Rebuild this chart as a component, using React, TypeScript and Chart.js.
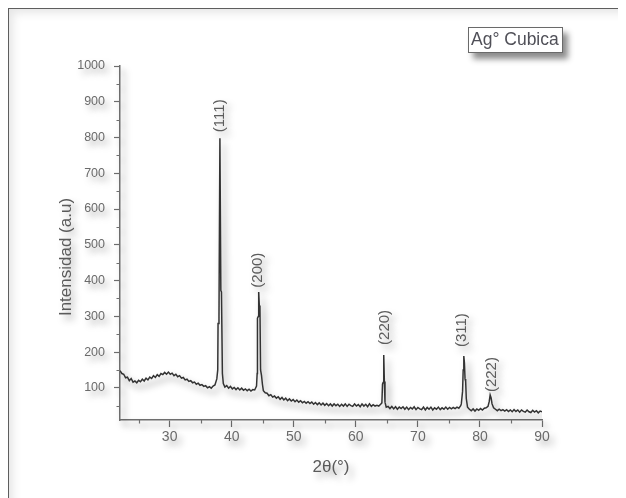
import React, { useEffect, useRef } from "react";
import { Chart, registerables } from "chart.js";

Chart.register(...registerables);

// ---- data (2θ in degrees, intensity in a.u.) ----
const twoTheta: number[] = [
  22.0, 22.3, 22.6, 22.9, 23.2, 23.5, 23.8, 24.1, 24.4, 24.7, 25.0, 25.3, 25.6, 25.9, 26.2, 26.5, 26.8, 27.1, 27.4, 27.7,
  28.0, 28.3, 28.6, 28.9, 29.2, 29.5, 29.8, 30.1, 30.4, 30.7, 31.0, 31.3, 31.6, 31.9, 32.2, 32.5, 32.8, 33.1, 33.4, 33.7,
  34.0, 34.3, 34.6, 34.9, 35.2, 35.5, 35.8, 36.1, 36.4, 36.7, 37.0, 37.3, 37.6, 37.75, 37.8, 37.95, 38.1, 38.25, 38.35, 38.5,
  38.65, 38.9, 39.2, 39.5, 39.8, 40.1, 40.4, 40.7, 41.0, 41.3, 41.6, 41.9, 42.2, 42.5, 42.8, 43.1, 43.4, 43.7, 44.0, 44.1,
  44.15, 44.3, 44.35, 44.45, 44.55, 44.65, 44.8, 44.95, 45.1, 45.4, 45.7, 46.0, 46.3, 46.6, 46.9, 47.2, 47.5, 47.8, 48.1, 48.4,
  48.7, 49.0, 49.3, 49.6, 49.9, 50.2, 50.5, 50.8, 51.1, 51.4, 51.7, 52.0, 52.3, 52.6, 52.9, 53.2, 53.5, 53.8, 54.1, 54.4,
  54.7, 55.0, 55.3, 55.6, 55.9, 56.2, 56.5, 56.8, 57.1, 57.4, 57.7, 58.0, 58.3, 58.6, 58.9, 59.2, 59.5, 59.8, 60.1, 60.4,
  60.7, 61.0, 61.3, 61.6, 61.9, 62.2, 62.5, 62.8, 63.1, 63.4, 63.7, 64.0, 64.2, 64.3, 64.4, 64.5, 64.6, 64.7, 64.9, 65.2,
  65.5, 65.8, 66.1, 66.4, 66.7, 67.0, 67.3, 67.6, 67.9, 68.2, 68.5, 68.8, 69.1, 69.4, 69.7, 70.0, 70.3, 70.6, 70.9, 71.2,
  71.5, 71.8, 72.1, 72.4, 72.7, 73.0, 73.3, 73.6, 73.9, 74.2, 74.5, 74.8, 75.1, 75.4, 75.7, 76.0, 76.3, 76.6, 76.9, 77.0,
  77.2, 77.3, 77.4, 77.5, 77.6, 77.7, 77.8, 78.0, 78.3, 78.6, 78.9, 79.2, 79.5, 79.8, 80.1, 80.4, 80.7, 81.0, 81.3, 81.5,
  81.65, 81.8, 81.95, 82.2, 82.5, 82.8, 83.1, 83.4, 83.7, 84.0, 84.3, 84.6, 84.9, 85.2, 85.5, 85.8, 86.1, 86.4, 86.7, 87.0,
  87.3, 87.6, 87.9, 88.2, 88.5, 88.8, 89.1, 89.4, 89.7, 90.0,
];

const intensity: number[] = [
  148, 140, 138, 128, 130, 120, 126, 116, 119, 114, 121, 117, 124, 119, 127, 122, 130, 126, 134, 129,
  137, 132, 140, 137, 143, 138, 144, 138, 141, 134, 138, 131, 134, 127, 129, 122, 124, 118, 120, 114,
  116, 110, 113, 107, 109, 104, 106, 100, 103, 99, 105, 108, 125, 150, 280, 300, 798, 372, 368, 140,
  112, 102, 106, 99, 104, 97, 101, 95, 100, 94, 99, 93, 97, 92, 96, 91, 95, 94, 105, 140,
  295, 300, 368, 330, 325, 150, 135, 110, 92, 86, 85, 78, 81, 74, 77, 71, 75, 68, 73, 66,
  71, 64, 69, 63, 67, 61, 66, 60, 64, 58, 62, 57, 61, 56, 60, 54, 59, 53, 58, 52,
  57, 51, 56, 50, 55, 49, 55, 50, 54, 48, 54, 49, 55, 48, 54, 50, 48, 55, 49, 53,
  47, 55, 49, 54, 47, 55, 48, 53, 49, 51, 49, 54, 58, 110, 115, 192, 118, 60, 46, 48,
  42, 48, 41, 47, 40, 46, 42, 47, 40, 46, 39, 45, 41, 47, 39, 45, 41, 39, 46, 38,
  45, 40, 46, 38, 44, 40, 46, 39, 44, 40, 46, 40, 45, 41, 45, 42, 46, 43, 50, 55,
  90, 150, 189, 170, 125, 118, 70, 46, 40, 36, 41, 35, 41, 37, 42, 38, 43, 44, 48, 62,
  80, 72, 55, 44, 40, 36, 40, 36, 39, 35, 39, 34, 38, 33, 39, 34, 38, 32, 38, 34,
  32, 38, 33, 31, 37, 32, 36, 30, 35, 33,
];

const xTickValues: number[] = [30, 40, 50, 60, 70, 80, 90];
const xMinorValues: number[] = [25, 35, 45, 55, 65, 75, 85];
const yTickValues: number[] = [100, 200, 300, 400, 500, 600, 700, 800, 900, 1000];
const yMinorValues: number[] = [50, 150, 250, 350, 450, 550, 650, 750, 850, 950];

const peakLabels: string[] = ["(111)", "(200)", "(220)", "(311)", "(222)"];
const peakLabelX: number[] = [38.13, 44.26, 64.74, 77.16, 82.0];
const peakLabelY: number[] = [815, 380, 220, 214, 88];

const xTitle = "2θ(°)";
const yTitle = "Intensidad (a.u)";
const legendText = "Ag° Cubica";

const FONT = '"Liberation Sans", Arial, Helvetica, sans-serif';

const shadowPlugin = {
  id: "softShadow",
  beforeDraw(chart: any) {
    const ctx = chart.ctx;
    ctx.save();
    ctx.shadowColor = "rgba(0,0,0,0.38)";
    ctx.shadowBlur = 7;
    ctx.shadowOffsetX = 4;
    ctx.shadowOffsetY = 5;
  },
  afterDraw(chart: any) {
    chart.ctx.restore();
  },
};

const annotationPlugin = {
  id: "xrdAnnotations",
  afterDatasetsDraw(chart: any) {
    const { ctx, scales, chartArea } = chart;
    const x = scales.x;
    const y = scales.y;
    ctx.save();
    // minor ticks
    ctx.strokeStyle = "#6e6e6e";
    ctx.lineWidth = 1.2;
    ctx.beginPath();
    yMinorValues.forEach((v) => {
      const py = Math.round(y.getPixelForValue(v)) + 0.5;
      ctx.moveTo(chartArea.left - 3.5, py);
      ctx.lineTo(chartArea.left, py);
    });
    xMinorValues.forEach((v) => {
      const px = Math.round(x.getPixelForValue(v)) + 0.5;
      ctx.moveTo(px, chartArea.bottom);
      ctx.lineTo(px, chartArea.bottom + 3.5);
    });
    ctx.stroke();

    // peak labels
    ctx.fillStyle = "#5c5c5c";
    ctx.font = `15px ${FONT}`;
    ctx.textAlign = "left";
    ctx.textBaseline = "middle";
    peakLabels.forEach((t, i) => {
      const px = x.getPixelForValue(peakLabelX[i]);
      const py = y.getPixelForValue(peakLabelY[i]);
      ctx.save();
      ctx.translate(px, py);
      ctx.rotate(-Math.PI / 2);
      ctx.fillText(t, 0, 0);
      ctx.restore();
    });

    // y axis title
    ctx.font = `17px ${FONT}`;
    ctx.textAlign = "center";
    ctx.fillStyle = "#5a5a5a";
    ctx.save();
    ctx.translate(chartArea.left - 54, (chartArea.top + chartArea.bottom) / 2 + 14);
    ctx.rotate(-Math.PI / 2);
    ctx.fillText(yTitle, 0, 0);
    ctx.restore();
    ctx.restore();
  },
};

export default function App() {
  const canvasRef = useRef<HTMLCanvasElement | null>(null);

  useEffect(() => {
    if (!canvasRef.current) return;
    const chart = new Chart(canvasRef.current, {
      type: "line",
      data: {
        datasets: [
          {
            label: legendText,
            data: twoTheta.map((v, i) => ({ x: v, y: intensity[i] })),
            borderColor: "#333333",
            borderWidth: 1.5,
            pointRadius: 0,
            fill: false,
            tension: 0,
          },
        ],
      },
      options: {
        animation: false,
        responsive: false,
        devicePixelRatio: 1,
        layout: { padding: { left: 0, top: 58, right: 84, bottom: 0 } },
        plugins: {
          legend: { display: false },
          tooltip: { enabled: false },
        },
        scales: {
          x: {
            type: "linear",
            min: 22,
            max: 90,
            afterBuildTicks: (s: any) => {
              s.ticks = xTickValues.map((v) => ({ value: v }));
            },
            afterFit: (s: any) => {
              s.height = 78;
            },
            grid: {
              drawOnChartArea: false,
              drawTicks: true,
              tickLength: 7,
              tickColor: "#6e6e6e",
              tickWidth: 1.2,
            },
            border: { display: true, color: "#6e6e6e", width: 1.5 },
            ticks: {
              color: "#6a6a6a",
              font: { family: FONT, size: 14 },
              padding: 2,
              maxRotation: 0,
              autoSkip: false,
              callback: (v: any) => String(v),
            },
            title: {
              display: true,
              text: xTitle,
              color: "#5a5a5a",
              font: { family: FONT, size: 17 },
              padding: { top: 0, bottom: 20 },
            },
          },
          y: {
            type: "linear",
            min: 10,
            max: 1000,
            afterBuildTicks: (s: any) => {
              s.ticks = yTickValues.map((v) => ({ value: v }));
            },
            afterFit: (s: any) => {
              s.width = 112;
            },
            grid: {
              drawOnChartArea: false,
              drawTicks: true,
              tickLength: 6,
              tickColor: "#6e6e6e",
              tickWidth: 1.2,
            },
            border: { display: true, color: "#6e6e6e", width: 1.5 },
            ticks: {
              color: "#6a6a6a",
              font: { family: FONT, size: 12.5 },
              padding: 9,
              autoSkip: false,
              callback: (v: any) => String(v),
            },
          },
        },
      },
      plugins: [shadowPlugin, annotationPlugin],
    });
    return () => chart.destroy();
  }, []);

  return (
    <div style={{ position: "relative", width: 618, height: 490 }}>
      <div
        style={{
          position: "absolute",
          left: -1,
          top: -1,
          width: 619,
          height: 491,
          boxSizing: "border-box",
          borderTop: "2px solid #5e5e5e",
          borderLeft: "2px solid #5e5e5e",
          boxShadow: "inset 7px 7px 10px -3px rgba(0,0,0,0.10)",
        }}
      />
      <canvas
        ref={canvasRef}
        width={618}
        height={490}
        style={{ position: "absolute", left: 0, top: 0, width: 618, height: 490, display: "block" }}
      />
      <div
        style={{
          position: "absolute",
          left: 460,
          top: 19,
          width: 95,
          height: 26,
          boxSizing: "border-box",
          border: "1.5px solid #6a6a6a",
          background: "#ffffff",
          boxShadow: "5px 6px 6px rgba(0,0,0,0.45)",
          fontFamily: FONT,
          fontSize: 17.5,
          lineHeight: "23px",
          color: "#505058",
          paddingLeft: 2,
          whiteSpace: "nowrap",
        }}
      >
        {legendText}
      </div>
    </div>
  );
}
